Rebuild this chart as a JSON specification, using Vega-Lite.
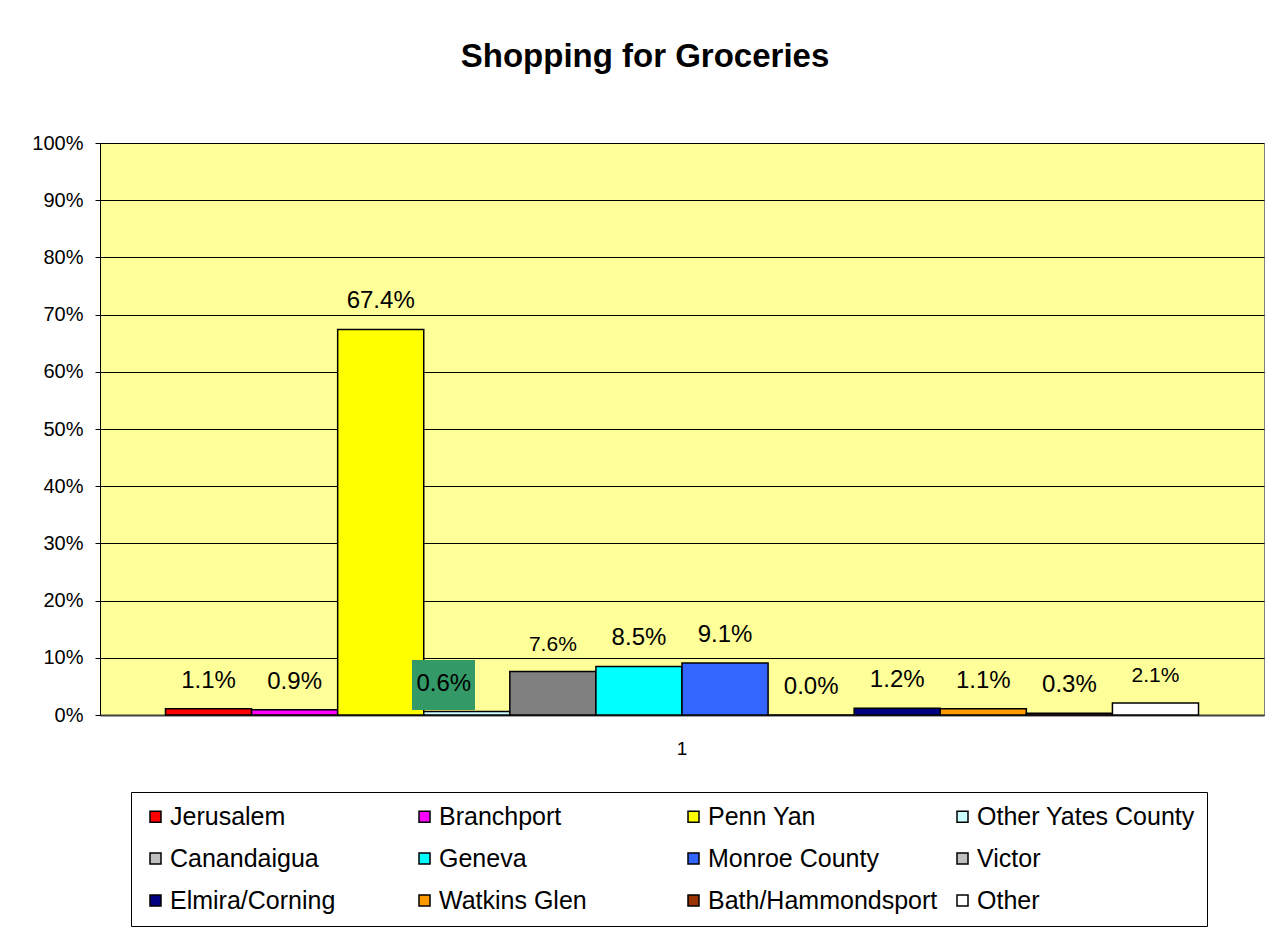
{
  "$schema": "https://vega.github.io/schema/vega-lite/v6.json",
  "width": 1164,
  "height": 572,
  "autosize": {"type": "none"},
  "padding": {"left": 100, "top": 143, "right": 19, "bottom": 215},
  "background": "white",
  "title": {
    "text": "Shopping for Groceries",
    "font": "Liberation Sans",
    "fontSize": 33,
    "fontWeight": "bold",
    "color": "black",
    "anchor": "middle",
    "frame": "group",
    "baseline": "alphabetic",
    "dx": -37,
    "offset": 33
  },
  "config": {
    "view": {"fill": "#FFFF99", "stroke": "#808080", "strokeWidth": 1},
    "font": "Liberation Sans"
  },
  "data": {
    "values": [
      {"cat": "1", "series": "Jerusalem", "value": 0.011},
      {"cat": "1", "series": "Branchport", "value": 0.009},
      {"cat": "1", "series": "Penn Yan", "value": 0.674},
      {"cat": "1", "series": "Other Yates County", "value": 0.006},
      {"cat": "1", "series": "Canandaigua", "value": 0.076},
      {"cat": "1", "series": "Geneva", "value": 0.085},
      {"cat": "1", "series": "Monroe County", "value": 0.091},
      {"cat": "1", "series": "Victor", "value": 0.0},
      {"cat": "1", "series": "Elmira/Corning", "value": 0.012},
      {"cat": "1", "series": "Watkins Glen", "value": 0.011},
      {"cat": "1", "series": "Bath/Hammondsport", "value": 0.003},
      {"cat": "1", "series": "Other", "value": 0.021}
    ]
  },
  "encoding": {
    "x": {
      "field": "cat",
      "type": "nominal",
      "scale": {"paddingInner": 0, "paddingOuter": 0.0634},
      "axis": {
        "title": null,
        "labelAngle": 0,
        "labelFontSize": 19,
        "labelColor": "black",
        "labelFont": "Liberation Sans",
        "ticks": false,
        "labelPadding": 24,
        "domainColor": "#404040",
        "domainWidth": 2
      }
    },
    "y": {
      "field": "value",
      "type": "quantitative",
      "scale": {"domain": [0, 1], "nice": false},
      "axis": {
        "title": null,
        "values": [0, 0.1, 0.2, 0.3, 0.4, 0.5, 0.6, 0.7, 0.8, 0.9, 1],
        "format": ".0%",
        "labelFontSize": 20,
        "labelColor": "black",
        "labelFont": "Liberation Sans",
        "labelPadding": 12,
        "tickSize": 5,
        "tickColor": "black",
        "domainColor": "black",
        "grid": true,
        "gridColor": "black",
        "gridWidth": 1
      }
    }
  },
  "layer": [
    {
      "mark": {"type": "bar", "stroke": "black", "strokeWidth": 1.5},
      "encoding": {
        "xOffset": {
          "field": "series",
          "type": "nominal",
          "sort": ["Jerusalem", "Branchport", "Penn Yan", "Other Yates County", "Canandaigua", "Geneva", "Monroe County", "Victor", "Elmira/Corning", "Watkins Glen", "Bath/Hammondsport", "Other"],
          "scale": {"paddingInner": 0, "paddingOuter": 0}
        },
        "color": {
          "condition": {"test": "datum.series === 'Canandaigua'", "value": "#808080"},
          "field": "series",
          "type": "nominal",
          "scale": {
            "domain": ["Jerusalem", "Branchport", "Penn Yan", "Other Yates County", "Canandaigua", "Geneva", "Monroe County", "Victor", "Elmira/Corning", "Watkins Glen", "Bath/Hammondsport", "Other"],
            "range": ["#FF0000", "#FF00FF", "#FFFF00", "#CCFFFF", "#C0C0C0", "#00FFFF", "#3366FF", "#C0C0C0", "#000080", "#FF9900", "#993300", "#FFFFFF"]
          },
          "legend": {
            "orient": "none",
            "legendX": 31,
            "legendY": 649,
            "title": null,
            "columns": 4,
            "direction": "horizontal",
            "gridAlign": "all",
            "columnPadding": 12,
            "rowPadding": 16,
            "symbolType": "square",
            "symbolSize": 121,
            "symbolStrokeColor": "black",
            "symbolStrokeWidth": 1.5,
            "symbolOpacity": 1,
            "labelFontSize": 25,
            "labelFont": "Liberation Sans",
            "labelColor": "black",
            "labelOffset": 2,
            "labelLimit": 400,
            "strokeColor": "black",
            "fillColor": "white",
            "padding": 12
          }
        }
      }
    },
    {
      "transform": [{"filter": "datum.series === 'Other Yates County'"}],
      "mark": {"type": "bar", "width": 63, "xOffset": -238.5, "color": "#339966"},
      "encoding": {
        "y": {"datum": 0.0087},
        "y2": {"datum": 0.096}
      }
    },
    {
      "transform": [{"filter": "datum.series !== 'Other Yates County'"}],
      "mark": {"type": "text", "baseline": "alphabetic", "dy": -21, "color": "black", "font": "Liberation Sans"},
      "encoding": {
        "xOffset": {
          "field": "series",
          "type": "nominal",
          "sort": ["Jerusalem", "Branchport", "Penn Yan", "Other Yates County", "Canandaigua", "Geneva", "Monroe County", "Victor", "Elmira/Corning", "Watkins Glen", "Bath/Hammondsport", "Other"]
        },
        "text": {"field": "value", "type": "quantitative", "format": ".1%"},
        "size": {
          "condition": {"test": "datum.series === 'Canandaigua' || datum.series === 'Other'", "value": 21},
          "value": 24
        }
      }
    },
    {
      "transform": [{"filter": "datum.series === 'Other Yates County'"}],
      "mark": {"type": "text", "baseline": "alphabetic", "dy": -21, "dx": -23, "fontSize": 24, "color": "black", "font": "Liberation Sans"},
      "encoding": {
        "xOffset": {
          "field": "series",
          "type": "nominal",
          "sort": ["Jerusalem", "Branchport", "Penn Yan", "Other Yates County", "Canandaigua", "Geneva", "Monroe County", "Victor", "Elmira/Corning", "Watkins Glen", "Bath/Hammondsport", "Other"]
        },
        "text": {"field": "value", "type": "quantitative", "format": ".1%"}
      }
    }
  ]
}
